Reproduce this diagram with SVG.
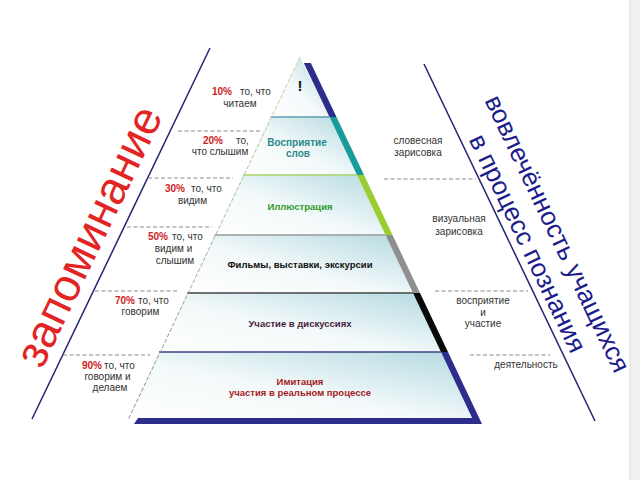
<svg xmlns="http://www.w3.org/2000/svg" width="640" height="480" viewBox="0 0 640 480">
<style>
text{font-family:"Liberation Sans",Arial,"Noto Sans",sans-serif}
.lbl{font-size:10px;fill:#333}
.mid{text-anchor:middle}
.pct{font-size:10px;font-weight:bold;fill:#cc2222}
.bl{font-size:9.5px;font-weight:bold;text-anchor:middle}
.dash{stroke:#8a8a8a;stroke-width:1;stroke-dasharray:4 2.5;fill:none}
.sep{stroke-width:1.5;fill:none}
.band{fill:url(#bandGrad)}
</style>
<defs>
<linearGradient id="bandGrad" x1="0" y1="1" x2="1" y2="0">
<stop offset="0" stop-color="#ffffff"/>
<stop offset="0.45" stop-color="#f3f9fa"/>
<stop offset="1" stop-color="#b2d9e0"/>
</linearGradient>
<linearGradient id="edgeGrad" gradientUnits="userSpaceOnUse" x1="300" y1="57" x2="128" y2="418">
<stop offset="0" stop-color="#c9d98a"/>
<stop offset="0.4" stop-color="#b0b8a0"/>
<stop offset="1" stop-color="#8a8a8a"/>
</linearGradient>
</defs>
<rect x="0" y="0" width="640" height="480" fill="#ffffff"/>
<rect x="630" y="0" width="10" height="480" fill="#f1f1f1"/>
<line x1="630" y1="0" x2="630" y2="480" stroke="#dcdcdc" stroke-width="1"/>

<g id="band1">
<polygon class="band" points="300,57 270.5,117 329.5,117"/>
<polygon fill="#2d2d8c" points="303.8,63 329.5,117 336.5,117 310.8,63"/>
<text x="300" y="91" style="font-size:15px;font-weight:bold;text-anchor:middle;fill:#111">!</text>
</g>
<g id="band2">
<polygon class="band" points="270.5,117 329.5,117 357,175 243,175"/>
<polygon fill="#1a9b9b" points="329.5,117 357,175 364,175 336.5,117"/>
<line class="sep" x1="270.5" y1="117" x2="329.5" y2="117" stroke="#5e9fae"/>
<text class="bl" x="297" y="146" fill="#2a8a8a" style="font-size:10px">Восприятие</text>
<text class="bl" x="298" y="157" fill="#2a8a8a" style="font-size:10px">слов</text>
</g>
<g id="band3">
<polygon class="band" points="243,175 357,175 385.5,235 214.5,235"/>
<polygon fill="#9acd32" points="357,175 385.5,235 392.5,235 364,175"/>
<line class="sep" x1="243" y1="175" x2="357" y2="175" stroke="#a9d26a"/>
<text class="bl" x="300" y="209.5" fill="#2e9a2e">Иллюстрация</text>
</g>
<g id="band4">
<polygon class="band" points="214.5,235 385.5,235 413,293 187,293"/>
<polygon fill="#8f8f8f" points="385.5,235 413,293 420,293 392.5,235"/>
<line class="sep" x1="214.5" y1="235" x2="385.5" y2="235" stroke="#9a9a9a"/>
<text class="bl" x="300" y="267.5" fill="#111">Фильмы, выставки, экскурсии</text>
</g>
<g id="band5">
<polygon class="band" points="187,293 413,293 441,352 159,352"/>
<polygon fill="#0a0a0a" points="413,293 441,352 448,352 420,293"/>
<line class="sep" x1="187" y1="293" x2="413" y2="293" stroke="#444"/>
<text class="bl" x="300" y="326.5" fill="#4a1e3c">Участие в дискуссиях</text>
</g>
<g id="band6">
<polygon class="band" points="159,352 441,352 472.4,418 127.6,418"/>
<polygon fill="#2d2d8c" points="441,352 475,424 482,424 448,352"/>
<polygon fill="#2d2d8c" points="138,418 476,418 479,424 134,424"/>
<line class="sep" x1="159" y1="352" x2="441" y2="352" stroke="#3a4380"/>
<text class="bl" x="300" y="384.5" fill="#a51c1c">Имитация</text>
<text class="bl" x="300" y="395.5" fill="#a51c1c">участия в реальном процессе</text>
</g>

<g id="connectors">
<line x1="300" y1="57" x2="128" y2="420" stroke="url(#edgeGrad)" stroke-width="1" stroke-dasharray="4 2"/>
<line x1="210" y1="48" x2="32" y2="419" stroke="#23236e" stroke-width="1.5"/>
<line x1="424" y1="64" x2="595" y2="421" stroke="#23236e" stroke-width="1.5"/>
<line class="dash" x1="178" y1="131" x2="263" y2="131"/>
<line class="dash" x1="148" y1="178" x2="233" y2="178"/>
<line class="dash" x1="127" y1="227" x2="212" y2="227"/>
<line class="dash" x1="95" y1="291" x2="178" y2="291"/>
<line class="dash" x1="63" y1="355" x2="150" y2="355"/>
<line class="dash" x1="384" y1="179" x2="476" y2="179"/>
<line class="dash" x1="435" y1="291" x2="528" y2="291"/>
<line class="dash" x1="470" y1="355" x2="550" y2="355"/>
</g>

<g id="left-labels">
<g id="l10"><text class="pct" x="212" y="95">10%</text><text class="lbl" x="240" y="95">то, что</text><text class="lbl mid" x="240" y="107">читаем</text></g>
<g id="l20"><text class="pct" x="203" y="144">20%</text><text class="lbl" x="236" y="144">то,</text><text class="lbl mid" x="220" y="155">что слышим</text></g>
<g id="l30"><text class="pct" x="165" y="191.5">30%</text><text class="lbl" x="191" y="191.5">то, что</text><text class="lbl mid" x="192.5" y="203.5">видим</text></g>
<g id="l50"><text class="pct" x="148" y="239.5">50%</text><text class="lbl" x="172" y="239.5">то, что</text><text class="lbl mid" x="173.5" y="252">видим и</text><text class="lbl mid" x="175" y="264">слышим</text></g>
<g id="l70"><text class="pct" x="115" y="303.5">70%</text><text class="lbl" x="138" y="303.5">то, что</text><text class="lbl mid" x="140.5" y="315">говорим</text></g>
<g id="l90"><text class="pct" x="82" y="368.5">90%</text><text class="lbl" x="104" y="368.5">то, что</text><text class="lbl mid" x="107.5" y="379.5">говорим и</text><text class="lbl mid" x="110" y="390.5">делаем</text></g>
</g>

<g id="right-labels">
<g id="r1"><text class="lbl mid" x="418" y="143.5">словесная</text><text class="lbl mid" x="418" y="155.5">зарисовка</text></g>
<g id="r2"><text class="lbl mid" x="459" y="221.5">визуальная</text><text class="lbl mid" x="459" y="235">зарисовка</text></g>
<g id="r3"><text class="lbl mid" x="483" y="303.5">восприятие</text><text class="lbl mid" x="483" y="316">и</text><text class="lbl mid" x="483" y="327">участие</text></g>
<g id="r4"><text class="lbl mid" x="526" y="367.5">деятельность</text></g>
</g>

<g id="memory-title" transform="translate(42,370) rotate(-64.5)">
<text x="0" y="0" style="font-size:46px;fill:#e22424">запоминание</text>
</g>
<g id="involvement-title" transform="translate(485,102) rotate(64.5)">
<text x="150" y="0" style="font-size:26px;fill:#1c1c8c;text-anchor:middle">вовлечённость учащихся</text>
<text x="146" y="31" style="font-size:26px;fill:#1c1c8c;text-anchor:middle">в процесс познания</text>
</g>
</svg>
